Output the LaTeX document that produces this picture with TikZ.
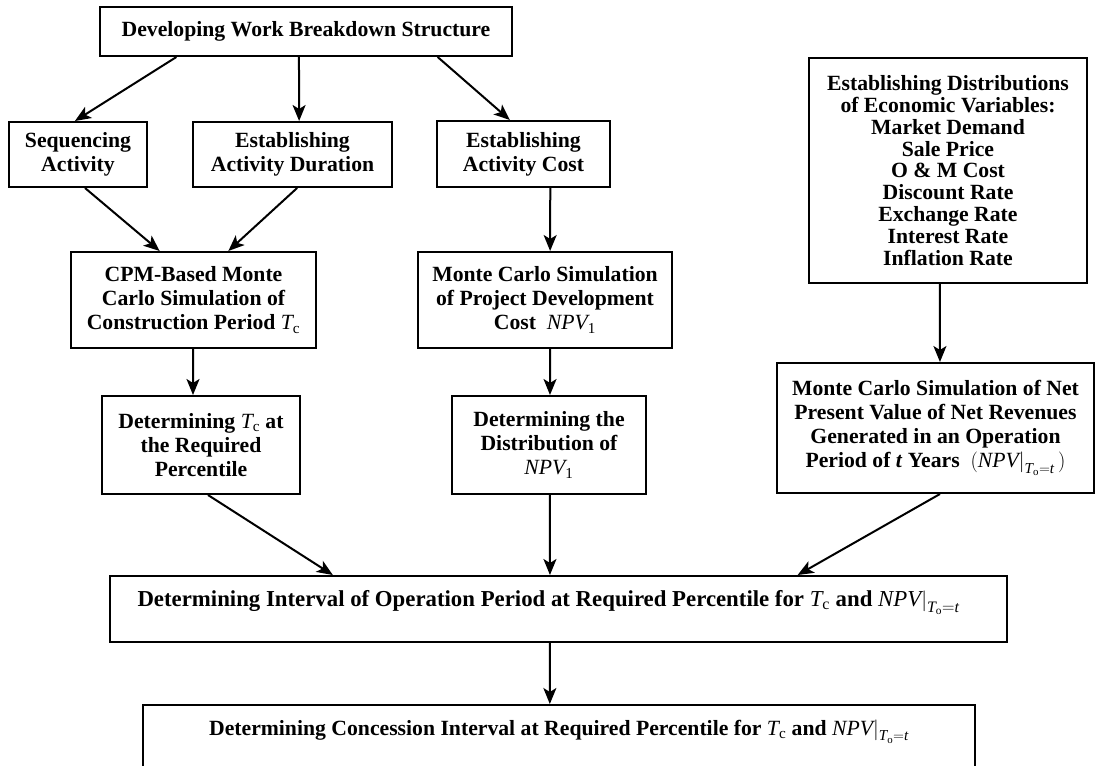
\documentclass[tikz,border=0pt]{standalone}
\usepackage{fontspec}
\setmainfont{Liberation Serif}
\usetikzlibrary{arrows.meta,calc}
\newcommand\npv{\mathit{NPV}}
\newcommand\tcv{$\mathit{T}_{\mathrm{c}}$}
\newcommand\npvo{$\npv\Big|_{\mathit{T}_{\mathrm{o}}=\mathit{t}}$}
\tikzset{
  box/.style={draw, line width=2pt, inner sep=0pt, align=center,
    font=\fontsize{21.7}{24}\selectfont\bfseries},
  arr/.style={line width=2pt, -{Stealth[length=16pt,width=13pt,inset=4pt]}}
}
\begin{document}
\begin{tikzpicture}[x=1pt,y=-1pt]
\path[use as bounding box, clip] (0,0) rectangle (1096,766);
\fill[white] (0,0) rectangle (1096,766);

\node[box, minimum width=412pt, minimum height=49pt] (top) at (306,31.5) {Developing Work Breakdown Structure};
\node[box, minimum width=138pt, minimum height=65pt] (seq) at (78,154.5) {Sequencing\\Activity};
\node[box, minimum width=199pt, minimum height=65pt] (dur) at (292.5,154.5) {Establishing\\Activity Duration};
\node[box, minimum width=173pt, minimum height=66pt] (cost) at (523.5,154) {Establishing\\Activity Cost};
\node[box, minimum width=278pt, minimum height=225pt, font=\fontsize{21.7}{21.8}\selectfont\bfseries] (dist) at (948,170.5)
  {Establishing Distributions\\of Economic Variables:\\Market Demand\\Sale Price\\O \& M Cost\\Discount Rate\\Exchange Rate\\Interest Rate\\Inflation Rate};
\node[box, minimum width=245pt, minimum height=96pt] (cpm) at (193.5,300) {CPM-Based Monte\\Carlo Simulation of\\Construction Period \tcv};
\node[box, minimum width=254pt, minimum height=96pt] (mccost) at (545,300) {Monte Carlo Simulation\\of Project Development\\Cost \ $\npv_{\mathrm{1}}$};
\node[box, minimum width=198pt, minimum height=98pt] (tc) at (201,445) {Determining \tcv\ at\\the Required\\Percentile};
\node[box, minimum width=194pt, minimum height=98pt] (npv) at (549,445) {Determining the\\Distribution of\\$\npv_{\mathrm{1}}$};
\node[box, minimum width=317pt, minimum height=130pt] (mcnpv) at (935.5,428) {Monte Carlo Simulation of Net\\Present Value of Net Revenues\\Generated in an Operation\\Period of \textit{t} Years \ $(\npv\Big|_{\mathit{T}_{\mathrm{o}}=\mathit{t}}\,)$};
\node[box, anchor=north, minimum width=897pt, text height=30pt, text depth=36pt, font=\fontsize{22.8}{24}\selectfont\bfseries] (op) at (558.5,575)
  {Determining Interval of Operation Period at Required Percentile for \tcv\ and \npvo\hspace{20pt}};
\node[box, anchor=north, minimum width=832pt, text height=30pt, text depth=80pt] (con) at (559,704)
  {Determining Concession Interval at Required Percentile for \tcv\ and \npvo};

\draw[arr] ($(top.south west)!0.187!(top.south east)$) -- ($(seq.north west)!0.478!(seq.north east)$);
\draw[arr] ($(top.south west)!0.483!(top.south east)$) -- ($(dur.north west)!0.533!(dur.north east)$);
\draw[arr] ($(top.south west)!0.818!(top.south east)$) -- ($(cost.north west)!0.422!(cost.north east)$);
\draw[arr] ($(seq.south west)!0.55!(seq.south east)$) -- ($(cpm.north west)!0.363!(cpm.north east)$);
\draw[arr] ($(dur.south west)!0.523!(dur.south east)$) -- ($(cpm.north west)!0.641!(cpm.north east)$);
\draw[arr] ($(cost.south west)!0.653!(cost.south east)$) -- ($(mccost.north west)!0.52!(mccost.north east)$);
\draw[arr] ($(cpm.south west)!0.498!(cpm.south east)$) -- ($(tc.north west)!0.46!(tc.north east)$);
\draw[arr] ($(mccost.south west)!0.52!(mccost.south east)$) -- ($(npv.north west)!0.505!(npv.north east)$);
\draw[arr] ($(dist.south west)!0.471!(dist.south east)$) -- ($(mcnpv.north west)!0.514!(mcnpv.north east)$);
\draw[arr] ($(tc.south west)!0.535!(tc.south east)$) -- ($(op.north west)!0.249!(op.north east)$);
\draw[arr] ($(npv.south west)!0.505!(npv.south east)$) -- ($(op.north west)!0.4905!(op.north east)$);
\draw[arr] ($(mcnpv.south west)!0.514!(mcnpv.south east)$) -- ($(op.north west)!0.766!(op.north east)$);
\draw[arr] ($(op.south west)!0.4905!(op.south east)$) -- ($(con.north west)!0.489!(con.north east)$);
\end{tikzpicture}
\end{document}
